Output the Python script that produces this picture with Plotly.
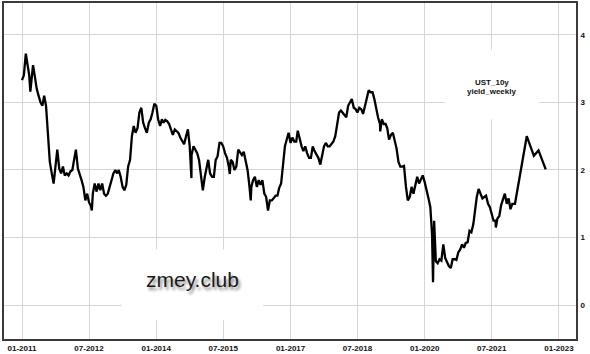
import plotly.graph_objects as go

# Half-month readings (1st and 16th of each month), Jan..Dec, per year
y2011 = [3.33, 3.40, 3.72, 3.55, 3.40, 3.28, 3.55, 3.38, 3.20, 3.10, 3.00, 2.95,
         3.10, 2.95, 2.45, 2.12, 1.95, 1.80, 2.05, 2.30, 2.02, 1.95, 2.05, 1.92]
y2012 = [1.95, 1.92, 1.98, 2.00, 2.15, 2.30, 2.02, 1.95, 1.85, 1.75, 1.55, 1.65,
         1.52, 1.47, 1.65, 1.80, 1.68, 1.80, 1.70, 1.80, 1.65, 1.62, 1.65, 1.75]
y2013 = [1.88, 1.95, 2.00, 1.95, 2.00, 1.90, 1.75, 1.70, 1.78, 2.05, 2.15, 2.50,
         2.65, 2.55, 2.62, 2.85, 2.92, 2.70, 2.62, 2.55, 2.70, 2.75, 2.85, 2.98]
y2014 = [2.95, 2.75, 2.65, 2.75, 2.70, 2.74, 2.72, 2.68, 2.60, 2.52, 2.60, 2.58,
         2.55, 2.48, 2.42, 2.38, 2.50, 2.60, 2.35, 2.22, 2.35, 2.30, 2.25, 2.15]
y2015 = [1.90, 1.70, 1.90, 2.05, 2.15, 1.95, 1.90, 1.90, 2.15, 2.20, 2.40, 2.40,
         2.35, 2.25, 2.18, 2.05, 2.15, 2.12, 2.00, 2.05, 2.30, 2.25, 2.22, 2.27]
y2016 = [2.12, 2.00, 1.75, 1.75, 1.85, 1.90, 1.75, 1.85, 1.78, 1.85, 1.65, 1.60,
         1.40, 1.55, 1.55, 1.58, 1.62, 1.62, 1.74, 1.80, 2.10, 2.35, 2.45, 2.55]
y2017 = [2.40, 2.48, 2.42, 2.42, 2.58, 2.45, 2.35, 2.28, 2.35, 2.25, 2.18, 2.18,
         2.35, 2.28, 2.22, 2.18, 2.08, 2.25, 2.35, 2.40, 2.35, 2.35, 2.38, 2.42]
y2018 = [2.50, 2.68, 2.85, 2.88, 2.85, 2.80, 2.78, 2.95, 3.00, 3.05, 2.92, 2.90,
         2.85, 2.92, 2.90, 2.83, 2.95, 3.05, 3.18, 3.15, 3.15, 3.05, 2.88, 2.78]
y2019 = [2.68, 2.75, 2.68, 2.68, 2.62, 2.45, 2.52, 2.55, 2.45, 2.32, 2.12, 2.05,
         2.05, 2.06, 1.75, 1.55, 1.60, 1.75, 1.65, 1.78, 1.90, 1.80, 1.85, 1.92]
y2020 = [1.82, 1.68, 1.58, 1.45, 1.05, 0.85, 0.65, 0.62, 0.68, 0.66, 0.90, 0.70,
         0.64, 0.58, 0.55, 0.68, 0.68, 0.67, 0.78, 0.82, 0.90, 0.85, 0.92, 0.93]
y2021 = [1.10, 1.08, 1.20, 1.45, 1.60, 1.72, 1.65, 1.58, 1.60, 1.62, 1.50, 1.45,
         1.35, 1.25, 1.25, 1.28, 1.32, 1.48, 1.58, 1.65, 1.50, 1.58, 1.42, 1.50]
years = [2011, 2012, 2013, 2014, 2015, 2016, 2017, 2018, 2019, 2020, 2021]

# Individual weekly extremes and the sparse 2022 readings
extra_dates = ["2011-03-10", "2012-07-24", "2014-10-15", "2015-08-24", "2016-02-11",
               "2019-01-03", "2020-03-09", "2020-03-18", "2021-08-04",
               "2022-01-07", "2022-04-13", "2022-06-10", "2022-07-18", "2022-09-15"]
extra_vals = [3.16, 1.40, 1.88, 1.94, 1.55,
              2.57, 0.34, 1.25, 1.15,
              1.50, 2.50, 2.21, 2.29, 2.01]

tick_vals = ["2011-01-01", "2012-07-01", "2014-01-01", "2015-07-01", "2017-01-01",
             "2018-07-01", "2020-01-01", "2021-07-01", "2023-01-01"]
tick_text = ["01-2011", "07-2012", "01-2014", "07-2015", "01-2017",
             "07-2018", "01-2020", "07-2021", "01-2023"]
y_ticks = [0, 1, 2, 3, 4]

series = {2011: y2011, 2012: y2012, 2013: y2013, 2014: y2014, 2015: y2015, 2016: y2016,
          2017: y2017, 2018: y2018, 2019: y2019, 2020: y2020, 2021: y2021}
pts = []
for yr in years:
    vals = series[yr]
    for i, v in enumerate(vals):
        m = i // 2 + 1
        d = 1 if i % 2 == 0 else 16
        pts.append((f"{yr}-{m:02d}-{d:02d}", v))
pts += list(zip(extra_dates, extra_vals))
pts.sort(key=lambda p: p[0])
xs = [p[0] for p in pts]
ys = [p[1] for p in pts]

fig = go.Figure()
fig.add_trace(go.Scatter(x=xs, y=ys, mode="lines",
                         line=dict(color="#000000", width=2.3),
                         showlegend=False, hoverinfo="skip"))

tick_font = dict(family="Liberation Sans, Arial", size=8, color="#111111", weight="bold")
fig.update_layout(
    width=590, height=354,
    margin=dict(l=4, r=14, t=1, b=15),
    paper_bgcolor="white", plot_bgcolor="white",
    showlegend=False,
    xaxis=dict(range=["2010-08-07", "2023-05-20"], tickvals=tick_vals, ticktext=tick_text,
               showgrid=True, gridcolor="#d6d6d6", gridwidth=1,
               showline=True, linecolor="#3a3a3a", linewidth=2, mirror=True,
               ticks="", tickfont=tick_font, zeroline=False),
    yaxis=dict(range=[-0.5, 4.47], tickvals=y_ticks, side="right",
               showgrid=True, gridcolor="#d6d6d6", gridwidth=1,
               showline=True, linecolor="#3a3a3a", linewidth=2, mirror=True,
               ticks="", tickfont=tick_font, zeroline=False, ticklabelstandoff=1),
    shapes=[
        dict(type="rect", xref="paper", yref="paper", x0=0.771, x1=0.935, y0=0.654, y1=0.861,
             fillcolor="white", line=dict(width=0), layer="above"),
        dict(type="rect", xref="paper", yref="paper", x0=0.206, x1=0.453, y0=0.056, y1=0.266,
             fillcolor="white", line=dict(width=0), layer="above"),
    ],
    annotations=[
        dict(text="UST_10y", xref="paper", yref="paper", x=0.853, y=0.763,
             xanchor="center", yanchor="middle",
             showarrow=False, font=dict(family="Liberation Sans, Arial", size=8,
                                        color="#111111", weight="bold")),
        dict(text="yield_weekly", xref="paper", yref="paper", x=0.853, y=0.737,
             xanchor="center", yanchor="middle",
             showarrow=False, font=dict(family="Liberation Sans, Arial", size=8,
                                        color="#111111", weight="bold")),
        dict(text="zmey.club", xref="paper", yref="paper", x=0.330, y=0.178,
             xanchor="center", yanchor="middle",
             showarrow=False, font=dict(family="Liberation Sans, Arial", size=21,
                                        color="#1a1a1a", shadow="2px 3px 3px #8a8a8a")),
    ],
)

fig.write_html("out.html")
